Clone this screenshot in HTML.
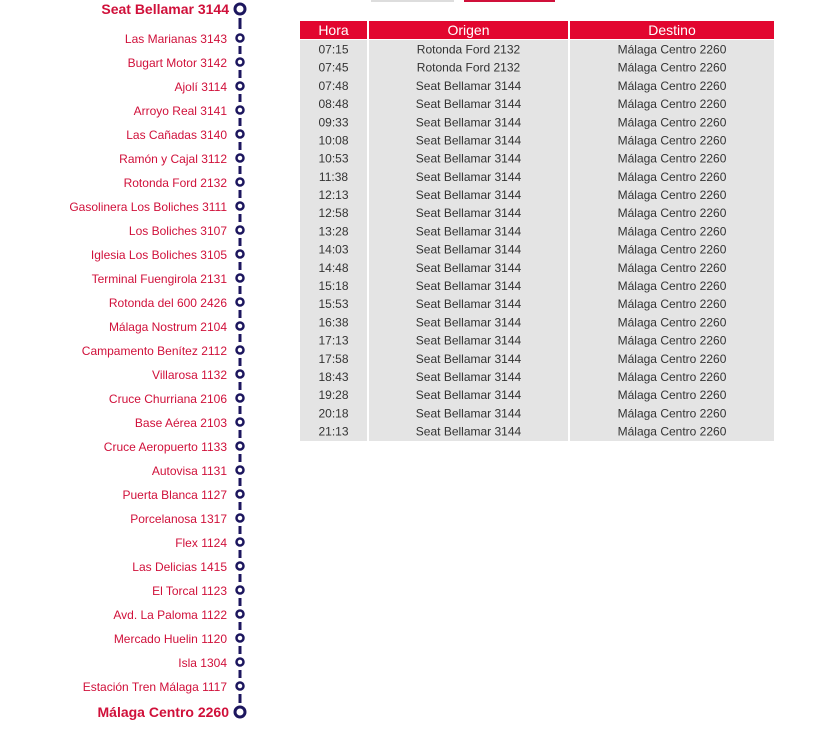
<!DOCTYPE html>
<html><head><meta charset="utf-8"><style>
body{margin:0;background:#fff;width:816px;height:736px;overflow:hidden}
svg{display:block;font-family:"Liberation Sans",sans-serif}
.s{fill:#d0103a;font-size:12px;text-anchor:end}
.b{fill:#d0103a;font-size:14px;font-weight:bold;text-anchor:end}
.t{fill:#333;font-size:12px;text-anchor:middle}
.h{fill:#fff;font-size:14px;text-anchor:middle}
</style></head><body>
<svg width="816" height="736" viewBox="0 0 816 736">
<rect x="371" y="0" width="83" height="2" fill="#ddd"/>
<rect x="464" y="0" width="91" height="2" fill="#d0103a"/>
<g stroke="#1c165e" stroke-width="3" fill="none">
<line x1="240" y1="18" x2="240" y2="29"/>
<line x1="240" y1="46" x2="240" y2="54"/><line x1="240" y1="70" x2="240" y2="78"/><line x1="240" y1="94" x2="240" y2="102"/><line x1="240" y1="118" x2="240" y2="126"/><line x1="240" y1="142" x2="240" y2="150"/><line x1="240" y1="166" x2="240" y2="174"/><line x1="240" y1="190" x2="240" y2="198"/><line x1="240" y1="214" x2="240" y2="222"/><line x1="240" y1="238" x2="240" y2="246"/><line x1="240" y1="262" x2="240" y2="270"/><line x1="240" y1="286" x2="240" y2="294"/><line x1="240" y1="310" x2="240" y2="318"/><line x1="240" y1="334" x2="240" y2="342"/><line x1="240" y1="358" x2="240" y2="366"/><line x1="240" y1="382" x2="240" y2="390"/><line x1="240" y1="406" x2="240" y2="414"/><line x1="240" y1="430" x2="240" y2="438"/><line x1="240" y1="454" x2="240" y2="462"/><line x1="240" y1="478" x2="240" y2="486"/><line x1="240" y1="502" x2="240" y2="510"/><line x1="240" y1="526" x2="240" y2="534"/><line x1="240" y1="550" x2="240" y2="558"/><line x1="240" y1="574" x2="240" y2="582"/><line x1="240" y1="598" x2="240" y2="606"/><line x1="240" y1="622" x2="240" y2="630"/><line x1="240" y1="646" x2="240" y2="654"/><line x1="240" y1="670" x2="240" y2="678"/>
<line x1="240" y1="694" x2="240" y2="703"/>
<circle cx="240" cy="9" r="5" stroke-width="3"/>
<circle cx="240" cy="712" r="5" stroke-width="3"/>
<g stroke-width="2.5">
<circle cx="240" cy="38" r="3.5"/><circle cx="240" cy="62" r="3.5"/><circle cx="240" cy="86" r="3.5"/><circle cx="240" cy="110" r="3.5"/><circle cx="240" cy="134" r="3.5"/><circle cx="240" cy="158" r="3.5"/><circle cx="240" cy="182" r="3.5"/><circle cx="240" cy="206" r="3.5"/><circle cx="240" cy="230" r="3.5"/><circle cx="240" cy="254" r="3.5"/><circle cx="240" cy="278" r="3.5"/><circle cx="240" cy="302" r="3.5"/><circle cx="240" cy="326" r="3.5"/><circle cx="240" cy="350" r="3.5"/><circle cx="240" cy="374" r="3.5"/><circle cx="240" cy="398" r="3.5"/><circle cx="240" cy="422" r="3.5"/><circle cx="240" cy="446" r="3.5"/><circle cx="240" cy="470" r="3.5"/><circle cx="240" cy="494" r="3.5"/><circle cx="240" cy="518" r="3.5"/><circle cx="240" cy="542" r="3.5"/><circle cx="240" cy="566" r="3.5"/><circle cx="240" cy="590" r="3.5"/><circle cx="240" cy="614" r="3.5"/><circle cx="240" cy="638" r="3.5"/><circle cx="240" cy="662" r="3.5"/><circle cx="240" cy="686" r="3.5"/>
</g></g>
<text class="b" x="229" y="14">Seat Bellamar 3144</text>
<text class="s" x="227" y="43">Las Marianas 3143</text>
<text class="s" x="227" y="67">Bugart Motor 3142</text>
<text class="s" x="227" y="91">Ajolí 3114</text>
<text class="s" x="227" y="115">Arroyo Real 3141</text>
<text class="s" x="227" y="139">Las Cañadas 3140</text>
<text class="s" x="227" y="163">Ramón y Cajal 3112</text>
<text class="s" x="227" y="187">Rotonda Ford 2132</text>
<text class="s" x="227" y="211">Gasolinera Los Boliches 3111</text>
<text class="s" x="227" y="235">Los Boliches 3107</text>
<text class="s" x="227" y="259">Iglesia Los Boliches 3105</text>
<text class="s" x="227" y="283">Terminal Fuengirola 2131</text>
<text class="s" x="227" y="307">Rotonda del 600 2426</text>
<text class="s" x="227" y="331">Málaga Nostrum 2104</text>
<text class="s" x="227" y="355">Campamento Benítez 2112</text>
<text class="s" x="227" y="379">Villarosa 1132</text>
<text class="s" x="227" y="403">Cruce Churriana 2106</text>
<text class="s" x="227" y="427">Base Aérea 2103</text>
<text class="s" x="227" y="451">Cruce Aeropuerto 1133</text>
<text class="s" x="227" y="475">Autovisa 1131</text>
<text class="s" x="227" y="499">Puerta Blanca 1127</text>
<text class="s" x="227" y="523">Porcelanosa 1317</text>
<text class="s" x="227" y="547">Flex 1124</text>
<text class="s" x="227" y="571">Las Delicias 1415</text>
<text class="s" x="227" y="595">El Torcal 1123</text>
<text class="s" x="227" y="619">Avd. La Paloma 1122</text>
<text class="s" x="227" y="643">Mercado Huelin 1120</text>
<text class="s" x="227" y="667">Isla 1304</text>
<text class="s" x="227" y="691">Estación Tren Málaga 1117</text>
<text class="b" x="229" y="717">Málaga Centro 2260</text>

<rect x="300" y="21" width="67" height="18" fill="#e2062f"/>
<rect x="369" y="21" width="199" height="18" fill="#e2062f"/>
<rect x="570" y="21" width="204" height="18" fill="#e2062f"/>
<rect x="300" y="40" width="67" height="401" fill="#e4e4e4"/>
<rect x="369" y="40" width="199" height="401" fill="#e4e4e4"/>
<rect x="570" y="40" width="204" height="401" fill="#e4e4e4"/>
<text class="h" x="333.5" y="35">Hora</text>
<text class="h" x="468.5" y="35">Origen</text>
<text class="h" x="672" y="35">Destino</text>
<g class="t">
<text class="t" x="333.5" y="53.5">07:15</text><text class="t" x="468.5" y="53.5">Rotonda Ford 2132</text><text class="t" x="672" y="53.5">Málaga Centro 2260</text>
<text class="t" x="333.5" y="71.7">07:45</text><text class="t" x="468.5" y="71.7">Rotonda Ford 2132</text><text class="t" x="672" y="71.7">Málaga Centro 2260</text>
<text class="t" x="333.5" y="89.9">07:48</text><text class="t" x="468.5" y="89.9">Seat Bellamar 3144</text><text class="t" x="672" y="89.9">Málaga Centro 2260</text>
<text class="t" x="333.5" y="108.1">08:48</text><text class="t" x="468.5" y="108.1">Seat Bellamar 3144</text><text class="t" x="672" y="108.1">Málaga Centro 2260</text>
<text class="t" x="333.5" y="126.3">09:33</text><text class="t" x="468.5" y="126.3">Seat Bellamar 3144</text><text class="t" x="672" y="126.3">Málaga Centro 2260</text>
<text class="t" x="333.5" y="144.5">10:08</text><text class="t" x="468.5" y="144.5">Seat Bellamar 3144</text><text class="t" x="672" y="144.5">Málaga Centro 2260</text>
<text class="t" x="333.5" y="162.7">10:53</text><text class="t" x="468.5" y="162.7">Seat Bellamar 3144</text><text class="t" x="672" y="162.7">Málaga Centro 2260</text>
<text class="t" x="333.5" y="180.8">11:38</text><text class="t" x="468.5" y="180.8">Seat Bellamar 3144</text><text class="t" x="672" y="180.8">Málaga Centro 2260</text>
<text class="t" x="333.5" y="199.0">12:13</text><text class="t" x="468.5" y="199.0">Seat Bellamar 3144</text><text class="t" x="672" y="199.0">Málaga Centro 2260</text>
<text class="t" x="333.5" y="217.2">12:58</text><text class="t" x="468.5" y="217.2">Seat Bellamar 3144</text><text class="t" x="672" y="217.2">Málaga Centro 2260</text>
<text class="t" x="333.5" y="235.4">13:28</text><text class="t" x="468.5" y="235.4">Seat Bellamar 3144</text><text class="t" x="672" y="235.4">Málaga Centro 2260</text>
<text class="t" x="333.5" y="253.6">14:03</text><text class="t" x="468.5" y="253.6">Seat Bellamar 3144</text><text class="t" x="672" y="253.6">Málaga Centro 2260</text>
<text class="t" x="333.5" y="271.8">14:48</text><text class="t" x="468.5" y="271.8">Seat Bellamar 3144</text><text class="t" x="672" y="271.8">Málaga Centro 2260</text>
<text class="t" x="333.5" y="290.0">15:18</text><text class="t" x="468.5" y="290.0">Seat Bellamar 3144</text><text class="t" x="672" y="290.0">Málaga Centro 2260</text>
<text class="t" x="333.5" y="308.2">15:53</text><text class="t" x="468.5" y="308.2">Seat Bellamar 3144</text><text class="t" x="672" y="308.2">Málaga Centro 2260</text>
<text class="t" x="333.5" y="326.4">16:38</text><text class="t" x="468.5" y="326.4">Seat Bellamar 3144</text><text class="t" x="672" y="326.4">Málaga Centro 2260</text>
<text class="t" x="333.5" y="344.6">17:13</text><text class="t" x="468.5" y="344.6">Seat Bellamar 3144</text><text class="t" x="672" y="344.6">Málaga Centro 2260</text>
<text class="t" x="333.5" y="362.8">17:58</text><text class="t" x="468.5" y="362.8">Seat Bellamar 3144</text><text class="t" x="672" y="362.8">Málaga Centro 2260</text>
<text class="t" x="333.5" y="381.0">18:43</text><text class="t" x="468.5" y="381.0">Seat Bellamar 3144</text><text class="t" x="672" y="381.0">Málaga Centro 2260</text>
<text class="t" x="333.5" y="399.2">19:28</text><text class="t" x="468.5" y="399.2">Seat Bellamar 3144</text><text class="t" x="672" y="399.2">Málaga Centro 2260</text>
<text class="t" x="333.5" y="417.3">20:18</text><text class="t" x="468.5" y="417.3">Seat Bellamar 3144</text><text class="t" x="672" y="417.3">Málaga Centro 2260</text>
<text class="t" x="333.5" y="435.5">21:13</text><text class="t" x="468.5" y="435.5">Seat Bellamar 3144</text><text class="t" x="672" y="435.5">Málaga Centro 2260</text>
</g>
</svg>
</body></html>
